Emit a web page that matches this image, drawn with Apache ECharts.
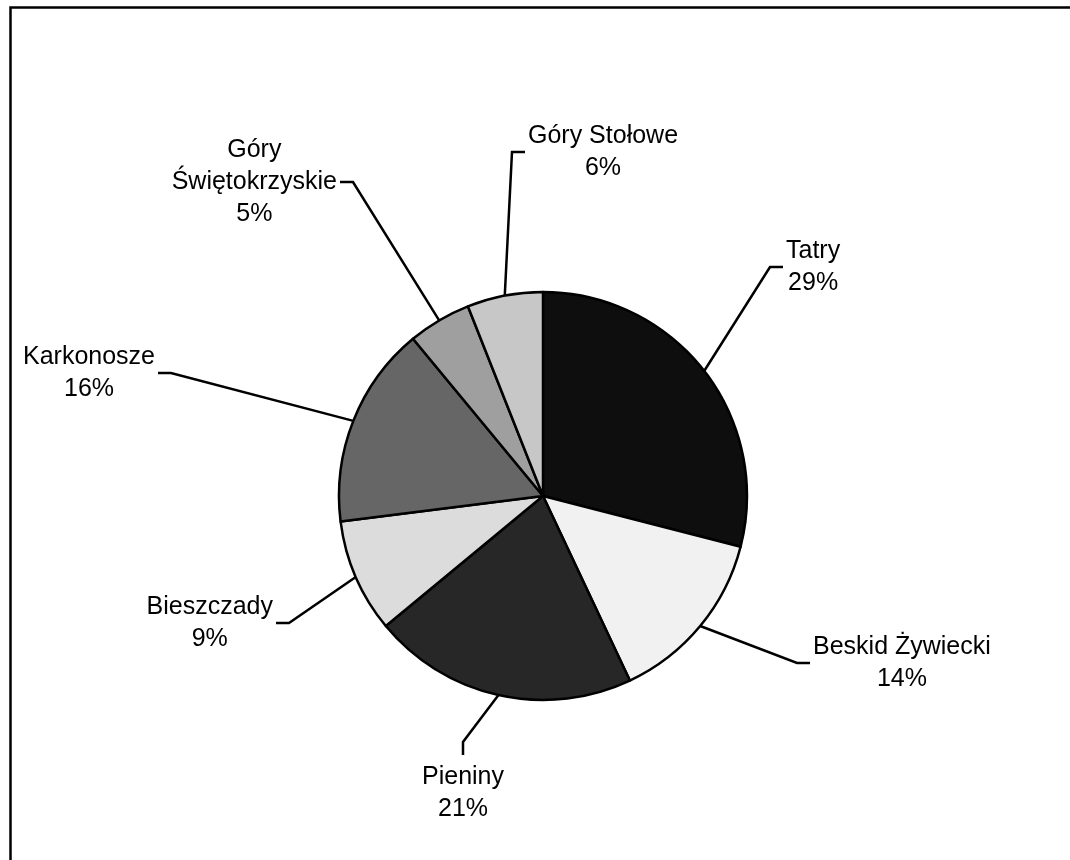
<!DOCTYPE html>
<html>
<head>
<meta charset="utf-8">
<script src="https://cdn.jsdelivr.net/npm/echarts@6/dist/echarts.min.js"></script>
<style>
html,body{margin:0;padding:0;background:#fff;}
#chart{width:1070px;height:860px;}
</style>
</head>
<body>
<div id="chart"></div>
<script>
// Data
const categories = ['Tatry', 'Beskid Żywiecki', 'Pieniny', 'Bieszczady', 'Karkonosze', 'Góry Świętokrzyskie', 'Góry Stołowe'];
const shares = [29, 14, 21, 9, 16, 5, 6];

// Styling, kept apart from the data
const sliceColors = ['#0e0e0e', '#f1f1f1', '#272727', '#dcdcdc', '#666666', '#9f9f9f', '#c7c7c7'];
// label anchor: where the leader line ends, and on which side the text sits
const labelAnchors = [
  [783, 267, 'right'],
  [810, 663, 'right'],
  [463, 755, 'bottom'],
  [276, 623, 'left'],
  [158, 373, 'left'],
  [340, 182, 'left'],
  [525, 152, 'right']
];
const elbowGap = 13;

const chart = echarts.init(document.getElementById('chart'), null, {renderer: 'canvas'});

const option = {
  backgroundColor: '#ffffff',
  animation: false,
  graphic: [{
    type: 'rect',
    left: 8, top: 5,
    shape: {width: 1100, height: 900},
    style: {fill: 'none', stroke: '#000', lineWidth: 2.5},
    silent: true
  }],
  series: [{
    type: 'pie',
    center: [543, 496],
    radius: 204,
    startAngle: 90,
    clockwise: true,
    avoidLabelOverlap: false,
    itemStyle: {borderColor: '#000', borderWidth: 2.5},
    label: {
      show: true,
      position: 'outside',
      fontFamily: 'Liberation Sans, Arial, sans-serif',
      fontSize: 25,
      lineHeight: 32,
      color: '#000',
      align: 'center',
      formatter: function (p) {
        let n = p.name;
        if (n.length > 16) n = n.replace(' ', '\n');
        return n + '\n' + p.value + '%';
      }
    },
    labelLine: {show: true, length: 20, length2: 10, lineStyle: {color: '#000', width: 2.5}},
    labelLayout: function (params) {
      const a = labelAnchors[params.dataIndex];
      const r = params.labelRect;
      const start = params.labelLinePoints ? params.labelLinePoints[0] : [a[0], a[1]];
      let x, y, elbow;
      if (a[2] === 'right') {
        x = a[0] + 3 + r.width / 2; y = a[1];
        elbow = [a[0] - elbowGap, a[1]];
      } else if (a[2] === 'left') {
        x = a[0] - 3 - r.width / 2; y = a[1];
        elbow = [a[0] + elbowGap, a[1]];
      } else {
        x = a[0]; y = a[1] + 6 + r.height / 2;
        elbow = [a[0], a[1] - elbowGap];
      }
      return {
        x: x, y: y, align: 'center', verticalAlign: 'middle',
        labelLinePoints: [start, elbow, [a[0], a[1]]]
      };
    },
    data: categories.map((c, i) => ({name: c, value: shares[i], itemStyle: {color: sliceColors[i]}}))
  }]
};
chart.setOption(option);
</script>
</body>
</html>
